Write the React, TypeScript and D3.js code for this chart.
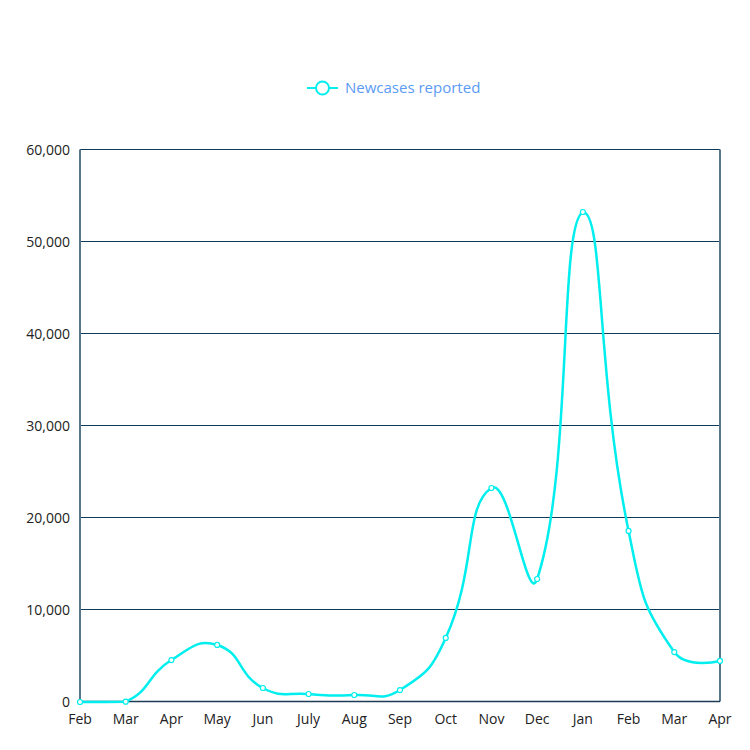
import React, { useRef, useEffect } from 'react';
import * as d3 from 'd3';

const months = ['Feb', 'Mar', 'Apr', 'May', 'Jun', 'July', 'Aug', 'Sep', 'Oct', 'Nov', 'Dec', 'Jan', 'Feb', 'Mar', 'Apr'];
const newCases = [0, 30, 4560, 6200, 1520, 870, 760, 1300, 6960, 23260, 13370, 53260, 18590, 5430, 4460];
const yTicks = [0, 10000, 20000, 30000, 40000, 50000, 60000];
const seriesName = 'Newcases reported';

const LINE = '#00eeee';

// smooth bezier, roughly the way echarts does it (control points clamped to the points' box)
function smoothPath(pts: [number, number][], smooth = 0.5) {
  const minX = d3.min(pts, p => p[0])!, maxX = d3.max(pts, p => p[0])!;
  const minY = d3.min(pts, p => p[1])!, maxY = d3.max(pts, p => p[1])!;
  const cps: [number, number][] = [];
  const n = pts.length;
  for (let i = 0; i < n; i++) {
    const p = pts[i];
    if (i === 0 || i === n - 1) { cps.push([p[0], p[1]]); continue; }
    const prev = pts[i - 1], next = pts[i + 1];
    const vx = (next[0] - prev[0]) * smooth, vy = (next[1] - prev[1]) * smooth;
    let d0 = Math.hypot(p[0] - prev[0], p[1] - prev[1]);
    let d1 = Math.hypot(p[0] - next[0], p[1] - next[1]);
    const sum = d0 + d1;
    if (sum !== 0) { d0 /= sum; d1 /= sum; }
    const clamp = (c: [number, number]): [number, number] => [
      Math.min(maxX, Math.max(minX, c[0])),
      Math.min(maxY, Math.max(minY, c[1]))
    ];
    cps.push(clamp([p[0] - vx * d0, p[1] - vy * d0]));
    cps.push(clamp([p[0] + vx * d1, p[1] + vy * d1]));
  }
  const path = d3.path();
  path.moveTo(pts[0][0], pts[0][1]);
  for (let i = 0; i < n - 1; i++) {
    const c1 = cps[i === 0 ? 0 : 2 * i];
    const c2 = cps[2 * i + 1 < cps.length ? 2 * i + 1 : cps.length - 1];
    const p = pts[i + 1];
    path.bezierCurveTo(c1[0], c1[1], c2[0], c2[1], p[0], p[1]);
  }
  return path.toString();
}

const App = () => {
  const svgRef = useRef<SVGSVGElement>(null);

  useEffect(() => {
    const width = 750, height = 750;
    const margin = { top: 150, right: 30, bottom: 48, left: 80 };
    const svg = d3.select(svgRef.current).attr('width', width).attr('height', height);
    svg.selectAll('*').remove();

    const x = d3.scalePoint<number>()
      .domain(months.map((d, i) => i))
      .range([margin.left, width - margin.right]);
    const y = d3.scaleLinear().domain([0, 60000]).range([height - margin.bottom, margin.top]);

    const font = '"Segoe UI", "Open Sans", sans-serif';
    const crisp = (v: number) => Math.round(v) - 0.5;

    // grid lines
    svg.append('g')
      .selectAll('line')
      .data(yTicks)
      .enter().append('line')
      .attr('x1', margin.left).attr('x2', width - margin.right)
      .attr('y1', d => crisp(y(d))).attr('y2', d => crisp(y(d)))
      .attr('stroke', '#0f3a58')
      .attr('stroke-width', 1);

    // side borders
    [margin.left, width - margin.right].forEach(xx => {
      svg.append('line')
        .attr('x1', xx).attr('x2', xx)
        .attr('y1', crisp(y(60000))).attr('y2', crisp(y(0)))
        .attr('stroke', '#56778d')
        .attr('stroke-width', 2);
    });
    svg.append('line')
      .attr('x1', margin.left).attr('x2', width - margin.right)
      .attr('y1', crisp(y(0))).attr('y2', crisp(y(0)))
      .attr('stroke', '#1d3b55').attr('stroke-width', 1.5);

    // y labels
    svg.append('g')
      .selectAll('text')
      .data(yTicks)
      .enter().append('text')
      .attr('x', margin.left - 10)
      .attr('y', d => y(d))
      .attr('dy', '0.35em')
      .attr('text-anchor', 'end')
      .style('font-family', font)
      .style('font-size', '14px')
      .style('fill', '#222')
      .text(d => d3.format(',')(d));

    // x labels
    svg.append('g')
      .selectAll('text')
      .data(months)
      .enter().append('text')
      .attr('x', (d, i) => x(i)!)
      .attr('y', y(0) + 22)
      .attr('text-anchor', 'middle')
      .style('font-family', font)
      .style('font-size', '14px')
      .style('fill', '#222')
      .text(d => d);

    // line
    const pts: [number, number][] = newCases.map((v, i) => [x(i)!, y(v)]);
    svg.append('path')
      .attr('d', smoothPath(pts))
      .attr('fill', 'none')
      .attr('stroke', LINE)
      .attr('stroke-width', 2.5);

    svg.append('g')
      .selectAll('circle')
      .data(newCases)
      .enter().append('circle')
      .attr('cx', (d, i) => x(i)!)
      .attr('cy', d => y(d))
      .attr('r', 2.5)
      .attr('fill', '#fff')
      .attr('stroke', LINE)
      .attr('stroke-width', 1.2);

    // legend
    const lg = svg.append('g').attr('transform', 'translate(307,88)');
    lg.append('line').attr('x1', 0).attr('x2', 31).attr('y1', 0).attr('y2', 0)
      .attr('stroke', LINE).attr('stroke-width', 2);
    lg.append('circle').attr('cx', 15.5).attr('cy', 0).attr('r', 6.5)
      .attr('fill', '#fff').attr('stroke', LINE).attr('stroke-width', 2);
    lg.append('text')
      .attr('x', 38).attr('y', 0).attr('dy', '0.35em')
      .style('font-family', font)
      .style('font-size', '15px')
      .style('fill', '#5b9bf5')
      .text(seriesName);
  }, []);

  return (
    <div style={{ position: 'absolute', left: 0, top: 0 }}>
      <svg ref={svgRef}></svg>
    </div>
  );
};

export default App;
